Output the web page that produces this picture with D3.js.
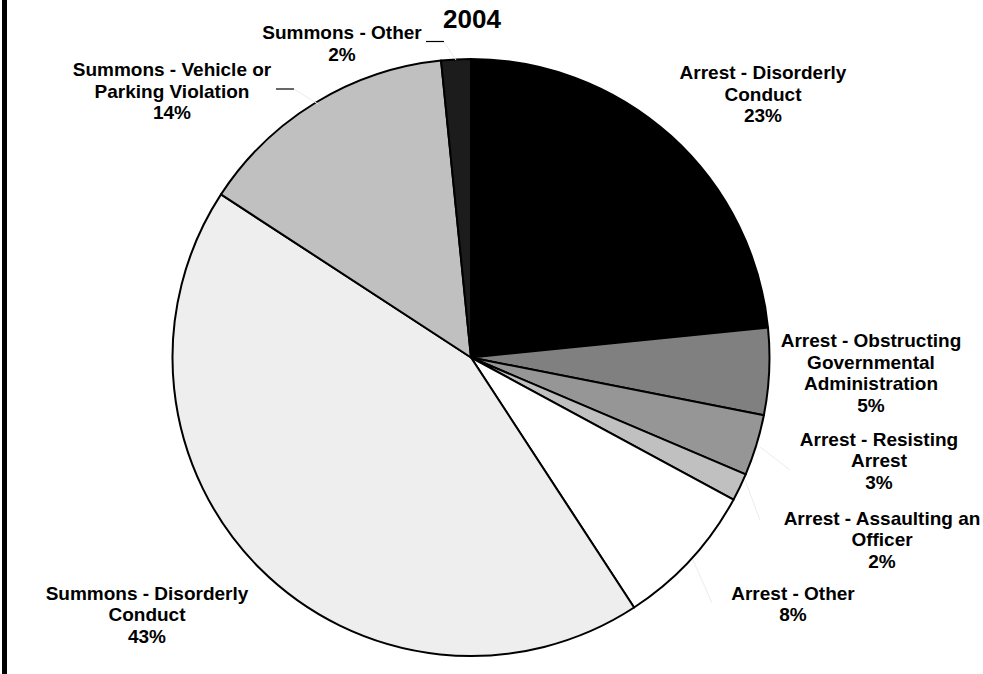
<!DOCTYPE html>
<html>
<head>
<meta charset="utf-8">
<script src="https://cdn.jsdelivr.net/npm/d3@7"></script>
<style>
  html, body { margin: 0; padding: 0; background: #ffffff; }
  svg { display: block; }
  text { font-family: "Liberation Sans", Arial, sans-serif; font-weight: bold; fill: #000; }
</style>
</head>
<body>
<svg id="chart" width="983" height="674"></svg>
<script>
// ---- Data ----
const title = "2004";
const categories = [
  "Arrest - Disorderly Conduct",
  "Arrest - Obstructing Governmental Administration",
  "Arrest - Resisting Arrest",
  "Arrest - Assaulting an Officer",
  "Arrest - Other",
  "Summons - Disorderly Conduct",
  "Summons - Vehicle or Parking Violation",
  "Summons - Other"
];
const labelLines = [
  ["Arrest - Disorderly", "Conduct"],
  ["Arrest - Obstructing", "Governmental", "Administration"],
  ["Arrest - Resisting", "Arrest"],
  ["Arrest - Assaulting an", "Officer"],
  ["Arrest - Other"],
  ["Summons - Disorderly", "Conduct"],
  ["Summons - Vehicle or", "Parking Violation"],
  ["Summons - Other"]
];
const values = [23.4, 4.7, 3.3, 1.5, 7.9, 43.4, 14.2, 1.6];
const colors = ["#000000", "#808080", "#969696", "#c0c0c0", "#ffffff", "#eeeeee", "#c0c0c0", "#1c1c1c"];

// ---- Layout ----
const W = 983, H = 674;
const cx = 471, cy = 357.5, R = 298.5;
const fontSize = 19, lineH = 21.5;
// label anchor: centre x, first baseline y
const labelPos = [
  [763, 79], [871, 347], [879, 445.5], [882, 524.5], [793, 599.5], [147, 599.5], [172, 76], [342, 39]
];
// short black leader dashes [x1, x2, y] and faint leader lines
const dashes = [[426, 444, 41.5], [276, 294, 89]];
const faint = [
  [[444, 42], [456, 60]],
  [[294, 89], [318, 104]],
  [[760, 447], [790, 470]],
  [[745, 480], [760, 520]],
  [[693, 560], [712, 603]]
];

const svg = d3.select("#chart");
svg.append("rect").attr("width", W).attr("height", H).attr("fill", "#ffffff");
svg.append("rect").attr("x", 2).attr("y", 0).attr("width", 5).attr("height", H).attr("fill", "#000");

const pie = d3.pie().sort(null).value(d => d).startAngle(0).endAngle(2 * Math.PI);
const arc = d3.arc().innerRadius(0).outerRadius(R);
const arcs = pie(values);

const g = svg.append("g").attr("transform", `translate(${cx},${cy})`);
g.selectAll("path").data(arcs).enter().append("path")
  .attr("d", arc)
  .attr("fill", (d, i) => colors[i])
  .attr("stroke", "#000")
  .attr("stroke-width", 2)
  .attr("stroke-linejoin", "round");

// faint leader lines
svg.selectAll("line.faint").data(faint).enter().append("line")
  .attr("class", "faint")
  .attr("x1", d => d[0][0]).attr("y1", d => d[0][1])
  .attr("x2", d => d[1][0]).attr("y2", d => d[1][1])
  .attr("stroke", "#ececec").attr("stroke-width", 1);

svg.selectAll("line.dash").data(dashes).enter().append("line")
  .attr("class", "dash")
  .attr("x1", d => d[0]).attr("x2", d => d[1])
  .attr("y1", d => d[2]).attr("y2", d => d[2])
  .attr("stroke", "#000").attr("stroke-width", 1.2);

// title
svg.append("text").attr("x", 472).attr("y", 28).attr("text-anchor", "middle")
  .style("font-size", "26px").text(title);

// labels
values.forEach((v, i) => {
  const lines = labelLines[i].concat([Math.round(v) + "%"]);
  const t = svg.append("text")
    .attr("text-anchor", "middle")
    .style("font-size", fontSize + "px");
  lines.forEach((ln, k) => {
    t.append("tspan").attr("x", labelPos[i][0]).attr("y", labelPos[i][1] + k * lineH).text(ln);
  });
});
</script>
</body>
</html>
